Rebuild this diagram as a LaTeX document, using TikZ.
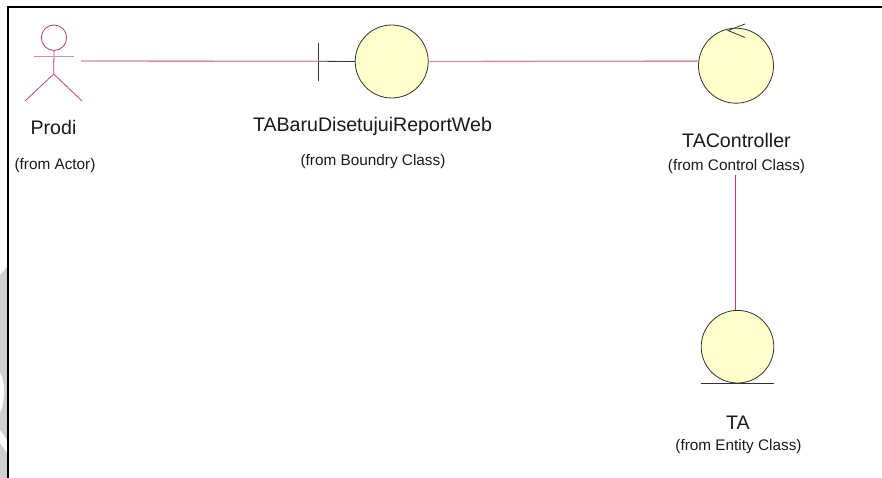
\documentclass[tikz,border=0pt]{standalone}
\usepackage{fontspec}
\setmainfont{Liberation Sans}
\definecolor{lnk}{HTML}{C0406E}
\definecolor{fillc}{HTML}{FFFFCB}
\definecolor{wmark}{HTML}{CFCFCF}
\tikzset{
  x=0.75pt,y=-0.75pt,
  lifeline/.style={draw=lnk,line width=0.6pt},
  assoc/.style={draw=lnk!60!white,line width=1pt},
  ink/.style={draw=black!80,line width=0.6pt},
  ball/.style={circle,draw=black!80,fill=fillc,line width=0.6pt,inner sep=0pt},
  bigname/.style={inner sep=0pt,anchor=base,font=\fontsize{14.7pt}{16pt}\selectfont,text=black!90},
  fromname/.style={inner sep=0pt,anchor=base,font=\fontsize{11.5pt}{13pt}\selectfont,text=black!90}
}
\begin{document}
\begin{tikzpicture}
\useasboundingbox (0,0) rectangle (882,478);
% grey watermark at the left margin
\fill[wmark] (0,275) -- (7,267) -- (7,478) -- (0,478) -- cycle;
\fill[white] (0,373) .. controls (5,380) and (6,400) .. (0,413) -- cycle;
\fill[white] (0,430) -- (7,440) -- (7,453) -- (0,443) -- cycle;
% frame
\draw[line width=1.5pt,black] (882,6.7) -- (7.7,6.7) -- (7.7,478);
% actor
\node[circle,draw=lnk,line width=0.6pt,minimum size=25.4*0.75pt,inner sep=0pt] (head) at (54,37.7) {};
\coordinate (hip) at (53.7,74);
\coordinate (lhand) at (33.5,56.5);
\coordinate (rhand) at (74,56.5);
\coordinate (lfoot) at (25,101);
\coordinate (rfoot) at (82,101);
\coordinate (actorlink) at (81,61);
\draw[lifeline] (head.south) -- (hip);
\draw[assoc] (lhand) -- (rhand);
\draw[lifeline] (lfoot) -- (hip) -- (rfoot);
\node[bigname] (prodi) at (53.5,134) {Prodi};
\node[fromname] (prodifrom) at (55,169) {(from Actor)};
% boundary
\coordinate (bartop) at (318.5,43);
\coordinate (barbot) at (318.5,81);
\coordinate (barmid) at (318.5,61.3);
\node[ball,minimum size=73*0.75pt] (boundary) at (391.7,61.5) {};
\draw[ink] (bartop) -- (barbot);
\draw[ink] (barmid) -- (boundary.west);
\node[bigname] (bname) at (372.5,131.5) {TABaruDisetujuiReportWeb};
\node[fromname] (bfrom) at (373,165.5) {(from Boundry Class)};
% control
\node[ball,minimum size=75*0.75pt] (control) at (736,65.7) {};
\coordinate (tip) at (728,30.5);
\coordinate (bup) at (745,24);
\coordinate (bdn) at (745,37.5);
\draw[ink] (bup) -- (tip) -- (bdn);
\node[bigname] (cname) at (736.5,147.3) {TAController};
\node[fromname] (cfrom) at (736.5,170) {(from Control Class)};
% entity
\node[ball,minimum size=72.6*0.75pt] (entity) at (737.5,346.7) {};
\coordinate (ebl) at (701,383);
\coordinate (ebr) at (774,383);
\draw[ink] (ebl) -- (ebr);
\node[bigname] (ename) at (738,429.3) {TA};
\node[fromname] (efrom) at (738.5,450.7) {(from Entity Class)};
% connectors
\draw[assoc] (actorlink) -- (barmid);
\draw[assoc] (boundary.east) -- (control.173);
\coordinate (vtop) at (735.5,175);
\coordinate (vbot) at (735.5,310.4);
\draw[lifeline] (vtop) -- (vbot);
\end{tikzpicture}
\end{document}
